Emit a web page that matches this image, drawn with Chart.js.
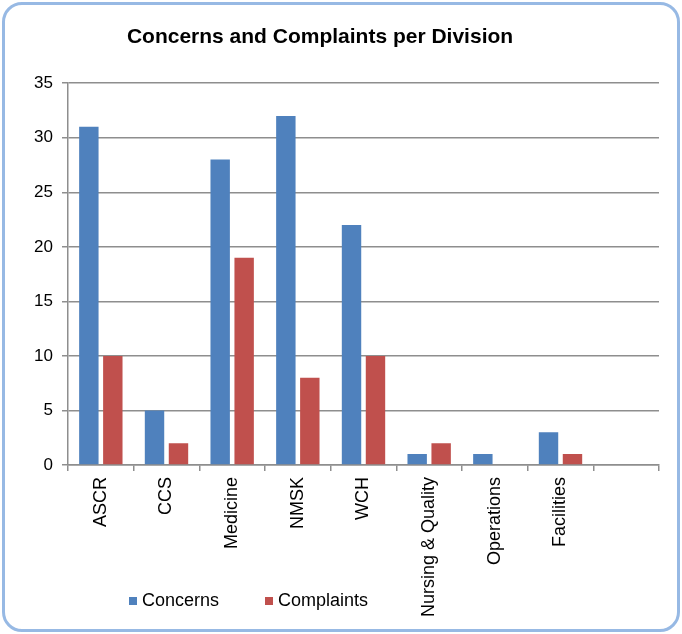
<!DOCTYPE html>
<html>
<head>
<meta charset="utf-8">
<script src="https://cdn.jsdelivr.net/npm/chart.js@4/dist/chart.umd.min.js"></script>
<style>
    body { margin: 0; background: #fff; font-family: "Liberation Sans", Arial, sans-serif; }
    #wrap { position: relative; width: 682px; height: 634px; overflow: hidden; }
    #frame { position: absolute; left: 2px; top: 2px; width: 672px; height: 624px;
             border: 3px solid #97b9e4; border-radius: 20px; }
    #ChartCanvas { position: absolute; left: 0; top: 0; }
    #legend { position: absolute; left: 129px; top: 590px; display: flex; font-size: 18px; color: #000; }
    #legend span.item { display: flex; align-items: center; margin-right: 46px; }
    #legend span.box { width: 8px; height: 8px; margin-right: 5px; display: inline-block; }
</style>
</head>
<body>
<div id="wrap">
    <div id="frame"></div>
    <canvas id="ChartCanvas" width="682" height="634"></canvas>
    <div id="legend"></div>
</div>
<script>
var divisions = ['ASCR', 'CCS', 'Medicine', 'NMSK', 'WCH', 'Nursing & Quality', 'Operations', 'Facilities', ''];
var concerns = [31, 5, 28, 32, 22, 1, 1, 3, null];
var complaints = [10, 2, 19, 8, 10, 2, 0, 1, null];
var yTicks = [0, 5, 10, 15, 20, 25, 30, 35];

var gridGrey = '#8e8e8e';

// move the title so it sits where the original put it
var titlePlacer = {
    id: 'titlePlacer',
    afterLayout: function (chart) {
        chart.titleBlock.left = 0;
        chart.titleBlock.right = 640;
    }
};

window.onload = function () {
    var ctx = document.getElementById("ChartCanvas").getContext("2d");

    window.DivisionChart = new Chart(ctx, {
        type: 'bar',
        data: {
            labels: divisions,
            datasets: [{
                label: 'Concerns',
                data: concerns,
                backgroundColor: '#4f81bd',
                categoryPercentage: 0.73,
                barPercentage: 0.81
            }, {
                label: 'Complaints',
                data: complaints,
                backgroundColor: '#c0504d',
                categoryPercentage: 0.73,
                barPercentage: 0.81
            }]
        },
        options: {
            responsive: false,
            animation: false,
            layout: {
                padding: { left: 10, right: 23, top: 10, bottom: 0 }
            },
            scales: {
                x: {
                    grid: {
                        drawOnChartArea: false,
                        color: gridGrey,
                        lineWidth: 1.5,
                        tickLength: 6
                    },
                    border: { color: gridGrey, width: 1.5 },
                    ticks: {
                        minRotation: 90,
                        maxRotation: 90,
                        autoSkip: false,
                        padding: 6,
                        color: '#000',
                        font: { family: '"Liberation Sans", Arial', size: 18 }
                    },
                    afterFit: function (scale) { scale.height = 169; }
                },
                y: {
                    min: 0,
                    max: 35,
                    afterBuildTicks: function (scale) {
                        scale.ticks = yTicks.map(function (v) { return { value: v }; });
                    },
                    grid: {
                        color: gridGrey,
                        lineWidth: 1.5,
                        tickLength: 6
                    },
                    border: { color: gridGrey, width: 1.5 },
                    ticks: {
                        padding: 9,
                        color: '#000',
                        font: { family: '"Liberation Sans", Arial', size: 17 }
                    },
                    afterFit: function (scale) { scale.width = 58; }
                }
            },
            plugins: {
                legend: { display: false },
                tooltip: { enabled: false },
                title: {
                    display: true,
                    text: 'Concerns and Complaints per Division',
                    color: '#000',
                    font: { family: '"Liberation Sans", Arial', size: 21, weight: 'bold' },
                    padding: { top: 15, bottom: 33 }
                }
            }
        },
        plugins: [titlePlacer]
    });

    // html legend from the datasets
    var legendBox = document.getElementById("legend");
    window.DivisionChart.data.datasets.forEach(function (ds) {
        var item = document.createElement('span');
        item.className = 'item';
        var box = document.createElement('span');
        box.className = 'box';
        box.style.background = ds.backgroundColor;
        var txt = document.createElement('span');
        txt.textContent = ds.label;
        item.appendChild(box);
        item.appendChild(txt);
        legendBox.appendChild(item);
    });
};
</script>
</body>
</html>
